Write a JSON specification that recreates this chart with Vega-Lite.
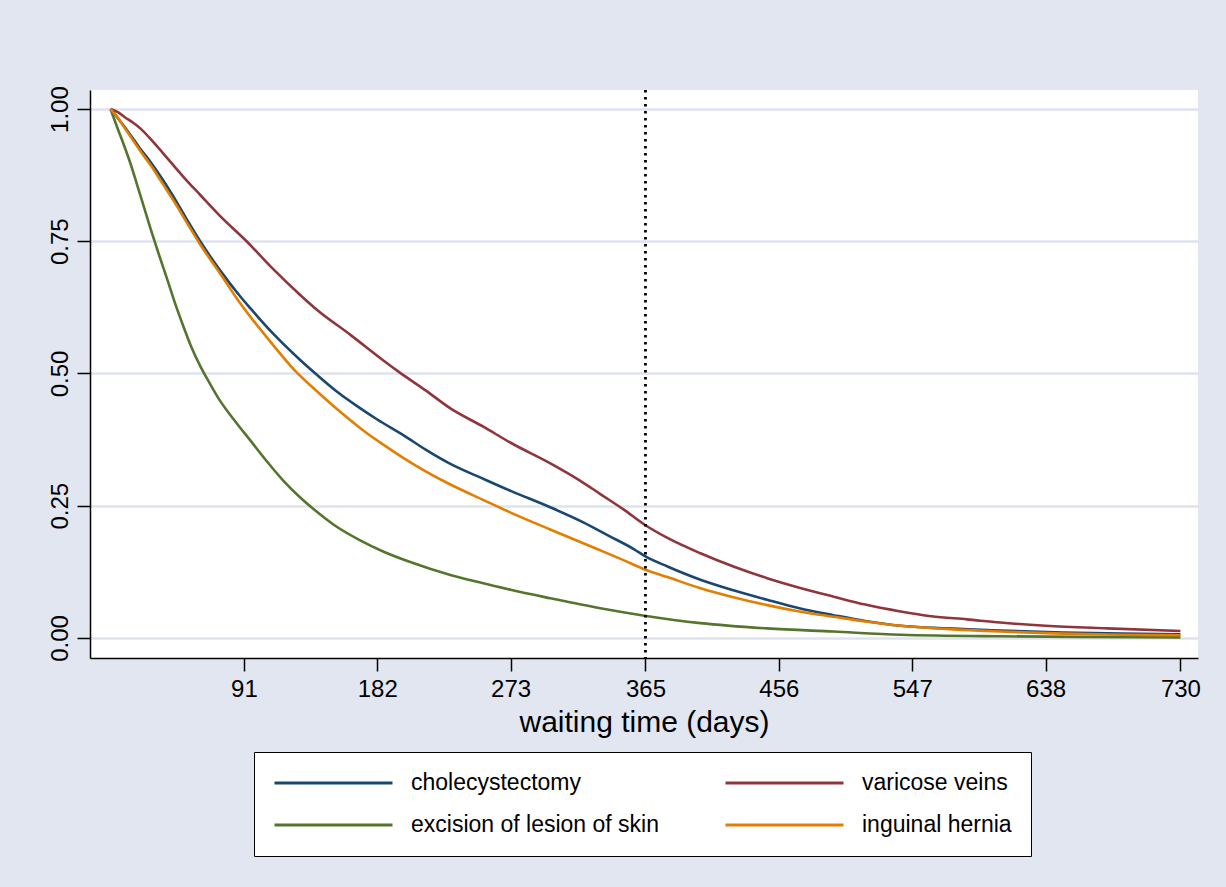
{
  "$schema": "https://vega.github.io/schema/vega-lite/v6.json",
  "width": 1108,
  "height": 568,
  "autosize": {"type": "none"},
  "padding": {"left": 90, "top": 90, "right": 28, "bottom": 229},
  "background": "#e2e6f0",
  "config": {
    "font": "Liberation Sans",
    "view": {"fill": "white", "stroke": null},
    "axis": {"labelFont": "Liberation Sans", "titleFont": "Liberation Sans", "labelColor": "black", "titleColor": "black", "domainColor": "black", "tickColor": "black", "domainWidth": 1.5, "tickWidth": 1.5}
  },
  "datasets": {
    "km": [
      {"g":"cholecystectomy","d":0,"s":1.0},{"g":"cholecystectomy","d":3,"s":0.99},{"g":"cholecystectomy","d":8,"s":0.972},{"g":"cholecystectomy","d":13.6,"s":0.951},{"g":"cholecystectomy","d":20,"s":0.926},{"g":"cholecystectomy","d":27.3,"s":0.9},{"g":"cholecystectomy","d":36,"s":0.865},{"g":"cholecystectomy","d":45,"s":0.825},{"g":"cholecystectomy","d":53,"s":0.787},{"g":"cholecystectomy","d":61.4,"s":0.749},{"g":"cholecystectomy","d":75,"s":0.694},{"g":"cholecystectomy","d":88.7,"s":0.645},{"g":"cholecystectomy","d":95.5,"s":0.623},{"g":"cholecystectomy","d":110,"s":0.578},{"g":"cholecystectomy","d":129.6,"s":0.525},{"g":"cholecystectomy","d":141,"s":0.497},{"g":"cholecystectomy","d":155.7,"s":0.463},{"g":"cholecystectomy","d":170,"s":0.435},{"g":"cholecystectomy","d":182,"s":0.413},{"g":"cholecystectomy","d":200,"s":0.383},{"g":"cholecystectomy","d":215,"s":0.356},{"g":"cholecystectomy","d":231.9,"s":0.329},{"g":"cholecystectomy","d":255,"s":0.3},{"g":"cholecystectomy","d":273,"s":0.278},{"g":"cholecystectomy","d":300,"s":0.247},{"g":"cholecystectomy","d":322.9,"s":0.218},{"g":"cholecystectomy","d":340,"s":0.193},{"g":"cholecystectomy","d":357,"s":0.168},{"g":"cholecystectomy","d":365,"s":0.154},{"g":"cholecystectomy","d":380,"s":0.135},{"g":"cholecystectomy","d":402.5,"s":0.11},{"g":"cholecystectomy","d":425,"s":0.09},{"g":"cholecystectomy","d":448,"s":0.072},{"g":"cholecystectomy","d":470,"s":0.056},{"g":"cholecystectomy","d":493.4,"s":0.043},{"g":"cholecystectomy","d":515,"s":0.032},{"g":"cholecystectomy","d":539,"s":0.023},{"g":"cholecystectomy","d":570,"s":0.018},{"g":"cholecystectomy","d":607,"s":0.014},{"g":"cholecystectomy","d":650,"s":0.01},{"g":"cholecystectomy","d":690,"s":0.008},{"g":"cholecystectomy","d":730,"s":0.007},
      {"g":"varicose veins","d":0,"s":1.0},{"g":"varicose veins","d":5,"s":0.994},{"g":"varicose veins","d":10,"s":0.984},{"g":"varicose veins","d":15,"s":0.975},{"g":"varicose veins","d":20.5,"s":0.963},{"g":"varicose veins","d":30,"s":0.935},{"g":"varicose veins","d":40.9,"s":0.9},{"g":"varicose veins","d":50,"s":0.871},{"g":"varicose veins","d":61.4,"s":0.837},{"g":"varicose veins","d":75,"s":0.797},{"g":"varicose veins","d":93.2,"s":0.749},{"g":"varicose veins","d":110,"s":0.7},{"g":"varicose veins","d":129.6,"s":0.648},{"g":"varicose veins","d":141,"s":0.62},{"g":"varicose veins","d":163.7,"s":0.573},{"g":"varicose veins","d":186.4,"s":0.524},{"g":"varicose veins","d":196.7,"s":0.503},{"g":"varicose veins","d":215,"s":0.468},{"g":"varicose veins","d":231.9,"s":0.434},{"g":"varicose veins","d":254.6,"s":0.399},{"g":"varicose veins","d":273,"s":0.369},{"g":"varicose veins","d":300.1,"s":0.33},{"g":"varicose veins","d":320,"s":0.298},{"g":"varicose veins","d":334.2,"s":0.272},{"g":"varicose veins","d":350,"s":0.243},{"g":"varicose veins","d":365,"s":0.213},{"g":"varicose veins","d":380,"s":0.189},{"g":"varicose veins","d":402.5,"s":0.16},{"g":"varicose veins","d":425,"s":0.135},{"g":"varicose veins","d":448,"s":0.113},{"g":"varicose veins","d":470,"s":0.095},{"g":"varicose veins","d":493.4,"s":0.078},{"g":"varicose veins","d":515,"s":0.063},{"g":"varicose veins","d":539,"s":0.05},{"g":"varicose veins","d":560,"s":0.041},{"g":"varicose veins","d":584.4,"s":0.035},{"g":"varicose veins","d":607,"s":0.029},{"g":"varicose veins","d":638,"s":0.023},{"g":"varicose veins","d":680,"s":0.018},{"g":"varicose veins","d":730,"s":0.013},
      {"g":"excision of lesion of skin","d":0,"s":1.0},{"g":"excision of lesion of skin","d":4.6,"s":0.965},{"g":"excision of lesion of skin","d":9,"s":0.933},{"g":"excision of lesion of skin","d":13.6,"s":0.897},{"g":"excision of lesion of skin","d":20,"s":0.84},{"g":"excision of lesion of skin","d":27.3,"s":0.774},{"g":"excision of lesion of skin","d":33,"s":0.725},{"g":"excision of lesion of skin","d":38.7,"s":0.678},{"g":"excision of lesion of skin","d":44,"s":0.633},{"g":"excision of lesion of skin","d":50,"s":0.587},{"g":"excision of lesion of skin","d":55,"s":0.551},{"g":"excision of lesion of skin","d":61.4,"s":0.513},{"g":"excision of lesion of skin","d":68,"s":0.48},{"g":"excision of lesion of skin","d":73.9,"s":0.452},{"g":"excision of lesion of skin","d":84.1,"s":0.413},{"g":"excision of lesion of skin","d":95.5,"s":0.373},{"g":"excision of lesion of skin","d":106.9,"s":0.333},{"g":"excision of lesion of skin","d":118,"s":0.297},{"g":"excision of lesion of skin","d":129.6,"s":0.265},{"g":"excision of lesion of skin","d":141,"s":0.238},{"g":"excision of lesion of skin","d":152.3,"s":0.214},{"g":"excision of lesion of skin","d":170,"s":0.185},{"g":"excision of lesion of skin","d":186.4,"s":0.163},{"g":"excision of lesion of skin","d":205,"s":0.143},{"g":"excision of lesion of skin","d":231.9,"s":0.119},{"g":"excision of lesion of skin","d":255,"s":0.103},{"g":"excision of lesion of skin","d":273,"s":0.091},{"g":"excision of lesion of skin","d":300,"s":0.075},{"g":"excision of lesion of skin","d":334.2,"s":0.056},{"g":"excision of lesion of skin","d":364.3,"s":0.042},{"g":"excision of lesion of skin","d":402.5,"s":0.028},{"g":"excision of lesion of skin","d":448,"s":0.018},{"g":"excision of lesion of skin","d":493.4,"s":0.012},{"g":"excision of lesion of skin","d":539,"s":0.006},{"g":"excision of lesion of skin","d":607,"s":0.003},{"g":"excision of lesion of skin","d":660,"s":0.002},{"g":"excision of lesion of skin","d":730,"s":0.001},
      {"g":"inguinal hernia","d":0,"s":1.0},{"g":"inguinal hernia","d":3.4,"s":0.989},{"g":"inguinal hernia","d":8,"s":0.971},{"g":"inguinal hernia","d":13.6,"s":0.948},{"g":"inguinal hernia","d":20,"s":0.922},{"g":"inguinal hernia","d":27.3,"s":0.894},{"g":"inguinal hernia","d":36,"s":0.857},{"g":"inguinal hernia","d":45,"s":0.818},{"g":"inguinal hernia","d":53,"s":0.781},{"g":"inguinal hernia","d":61.4,"s":0.743},{"g":"inguinal hernia","d":75,"s":0.688},{"g":"inguinal hernia","d":86.4,"s":0.641},{"g":"inguinal hernia","d":95.5,"s":0.607},{"g":"inguinal hernia","d":110,"s":0.557},{"g":"inguinal hernia","d":126,"s":0.505},{"g":"inguinal hernia","d":141,"s":0.466},{"g":"inguinal hernia","d":155.7,"s":0.43},{"g":"inguinal hernia","d":175,"s":0.387},{"g":"inguinal hernia","d":186.4,"s":0.365},{"g":"inguinal hernia","d":200,"s":0.34},{"g":"inguinal hernia","d":215,"s":0.315},{"g":"inguinal hernia","d":231.9,"s":0.29},{"g":"inguinal hernia","d":255,"s":0.26},{"g":"inguinal hernia","d":273,"s":0.237},{"g":"inguinal hernia","d":300,"s":0.205},{"g":"inguinal hernia","d":332,"s":0.168},{"g":"inguinal hernia","d":350,"s":0.147},{"g":"inguinal hernia","d":365,"s":0.129},{"g":"inguinal hernia","d":380,"s":0.115},{"g":"inguinal hernia","d":402.5,"s":0.094},{"g":"inguinal hernia","d":425,"s":0.077},{"g":"inguinal hernia","d":448,"s":0.062},{"g":"inguinal hernia","d":470,"s":0.05},{"g":"inguinal hernia","d":493.4,"s":0.04},{"g":"inguinal hernia","d":515,"s":0.031},{"g":"inguinal hernia","d":539,"s":0.023},{"g":"inguinal hernia","d":570,"s":0.017},{"g":"inguinal hernia","d":607,"s":0.012},{"g":"inguinal hernia","d":650,"s":0.008},{"g":"inguinal hernia","d":690,"s":0.006},{"g":"inguinal hernia","d":730,"s":0.005}
    ]
  },
  "layer": [
    {
      "data": {"name": "km"},
      "mark": {"type": "line", "strokeWidth": 2.6, "interpolate": "monotone"},
      "encoding": {
        "x": {
          "field": "d", "type": "quantitative",
          "scale": {"domain": [-14, 742], "nice": false, "zero": false},
          "axis": {
            "values": [91, 182, 273, 365, 456, 547, 638, 730],
            "title": "waiting time (days)",
            "titleFontSize": 30, "titleFontWeight": "normal", "titlePadding": 6,
            "labelFontSize": 24, "labelPadding": 6, "tickSize": 13, "grid": false
          }
        },
        "y": {
          "field": "s", "type": "quantitative",
          "scale": {"domain": [-0.038, 1.036], "nice": false, "zero": false},
          "axis": {
            "values": [0, 0.25, 0.5, 0.75, 1],
            "format": ".2f",
            "title": null,
            "labelFontSize": 24, "labelAngle": 270, "labelAlign": "center", "labelBaseline": "alphabetic", "labelPadding": 10,
            "tickSize": 13,
            "grid": true, "gridColor": "#dfe3ee", "gridWidth": 2.5
          }
        },
        "color": {
          "field": "g", "type": "nominal",
          "scale": {
            "domain": ["cholecystectomy", "excision of lesion of skin", "varicose veins", "inguinal hernia"],
            "range": ["#1a476f", "#55752f", "#90353b", "#e37e00"]
          },
          "legend": {
            "title": null,
            "orient": "none", "legendX": 164, "legendY": 662,
            "columns": 2, "columnPadding": 64, "rowPadding": 18,
            "symbolType": "stroke", "symbolSize": 13924, "symbolStrokeWidth": 3,
            "clipHeight": 24,
            "labelFontSize": 23, "labelFont": "Liberation Sans", "labelColor": "black", "labelOffset": 17, "labelLimit": 400,
            "fillColor": "white", "strokeColor": "black", "padding": 19
          }
        }
      }
    },
    {
      "data": {"values": [{}]},
      "mark": {"type": "rule", "color": "black", "strokeWidth": 2.8, "strokeDash": [2.5, 4.5]},
      "encoding": {"x": {"datum": 365, "type": "quantitative"}}
    }
  ]
}
